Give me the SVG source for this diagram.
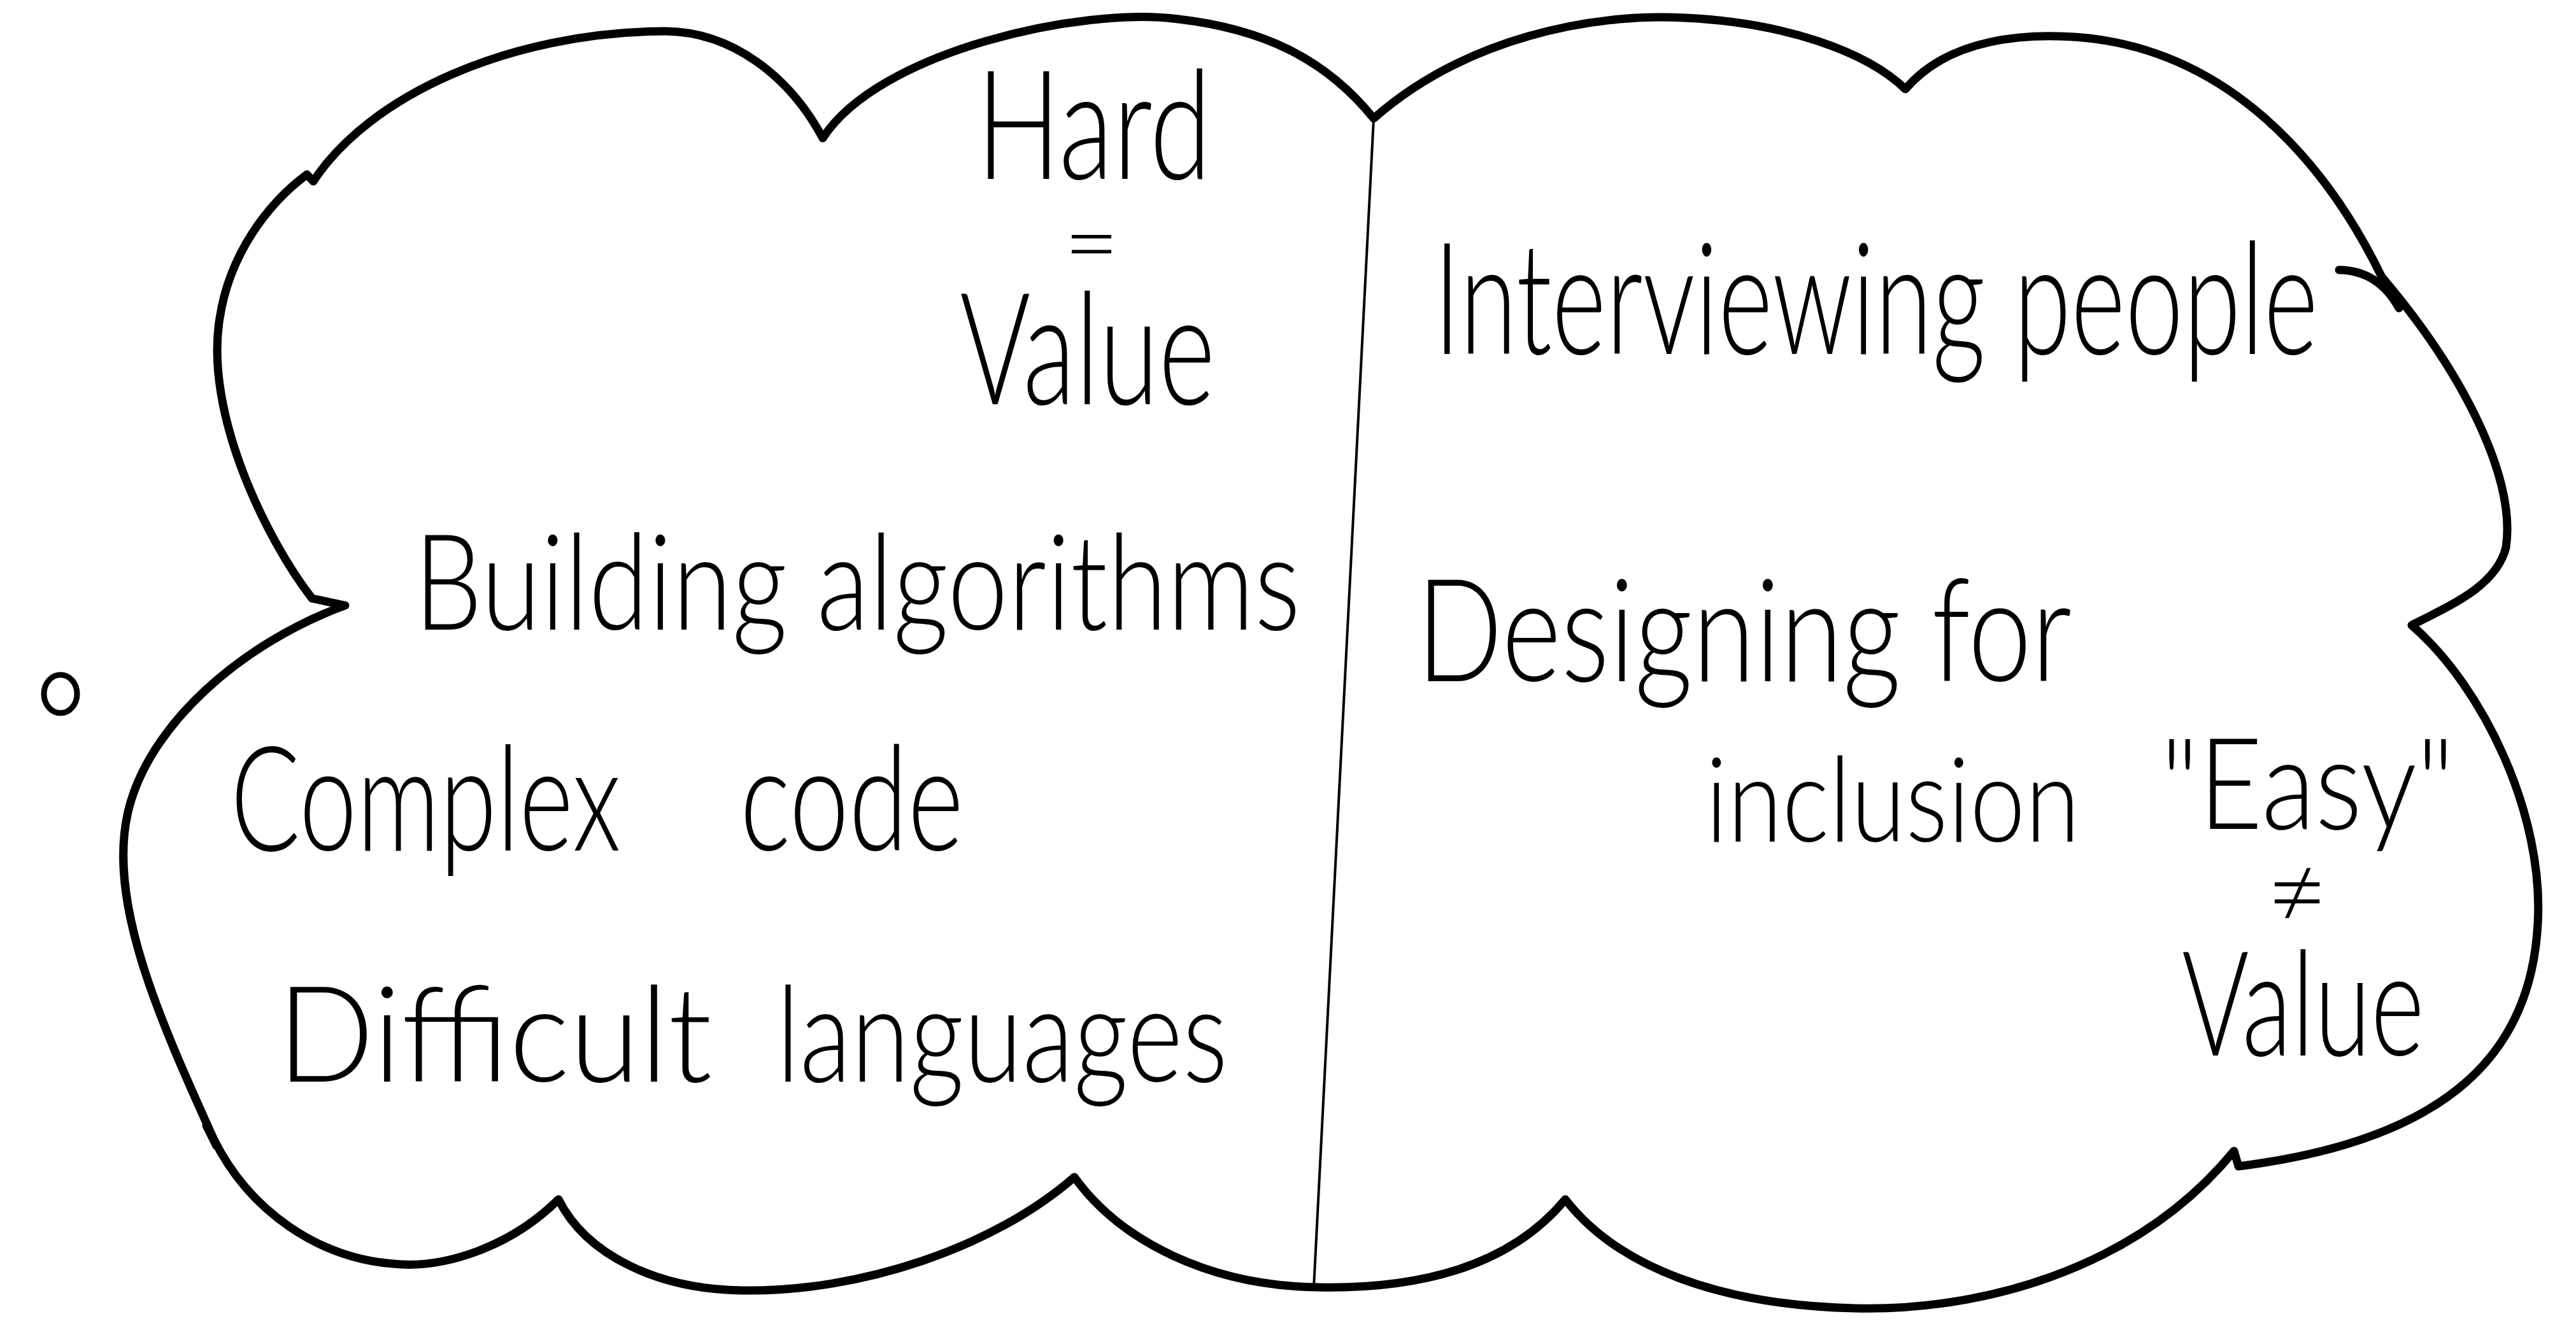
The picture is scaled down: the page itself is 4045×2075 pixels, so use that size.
<svg xmlns="http://www.w3.org/2000/svg" width="4045" height="2075" viewBox="0 0 4045 2075">
<style>
.outline{fill:none;stroke:#000;stroke-width:13;stroke-linecap:round;stroke-linejoin:round}
.divider{fill:none;stroke:#000;stroke-width:4}
.t{font-family:Lato,"Liberation Sans",sans-serif;font-weight:300;fill:#000}
</style>
<rect width="4045" height="2075" fill="#fff"/>
<g id="cloud">
<path class="outline" d="M1292,217 C1380,80 1700,10 1850,30 C1980,45 2080,90 2157,186 C2300,60 2500,20 2645,28 C2800,35 2930,80 2992,140 C3060,60 3180,50 3280,60 C3500,85 3650,250 3740,435 C3880,600 3950,760 3935,860 C3920,920 3850,950 3787,982 C3900,1080 3995,1280 3985,1450 C3975,1650 3850,1790 3515,1832 L3508,1808 C3350,2000 3100,2060 2912,2055 C2700,2050 2540,1990 2458,1884 C2370,1990 2230,2025 2070,2022 C1900,2020 1760,1950 1687,1849 C1560,1960 1350,2030 1165,2027 C1030,2025 920,1970 877,1884 C800,1960 700,1990 629,1986 C500,1980 390,1900 335,1788 C250,1600 170,1420 200,1280 C230,1140 380,1010 542,951 L490,940 C420,850 320,650 345,500 C360,400 420,320 482,274 L492,285 C580,150 800,50 1045,49 C1150,50 1240,120 1292,217"/>
<path class="outline" d="M3673,424 Q3735,425 3767,484"/>
<path class="outline" d="M324,1768 L340,1800"/>
<ellipse class="outline" cx="95" cy="1090" rx="26" ry="30" style="stroke-width:9"/>
</g>
<g id="connectors">
<path class="divider" d="M2157,186 L2063,2022"/>
</g>
<g id="left">
<text class="t" font-size="240"><tspan x="1533" y="281" textLength="369" lengthAdjust="spacingAndGlyphs">Hard</tspan><tspan x="1714" y="434" font-size="150" text-anchor="middle">=</tspan><tspan x="1507" y="635" font-size="245" textLength="401" lengthAdjust="spacingAndGlyphs">Value</tspan></text>
<text class="t" x="650" y="989" font-size="210" textLength="1392" lengthAdjust="spacingAndGlyphs">Building algorithms</text>
<text class="t" x="362" y="1336" font-size="230" textLength="613" lengthAdjust="spacingAndGlyphs">Complex</text>
<text class="t" x="1162" y="1336" font-size="230" textLength="351" lengthAdjust="spacingAndGlyphs">code</text>
<text class="t" x="435" y="1699" font-size="210" textLength="683" lengthAdjust="spacingAndGlyphs">Difficult</text>
<text class="t" x="1219" y="1699" font-size="210" textLength="709" lengthAdjust="spacingAndGlyphs">languages</text>
</g>
<g id="right">
<text class="t" x="2251" y="556" font-size="245" textLength="1389" lengthAdjust="spacingAndGlyphs">Interviewing people</text>
<text class="t" x="2224" y="1070" font-size="225" textLength="1029" lengthAdjust="spacingAndGlyphs">Designing for</text>
<text class="t" x="2678" y="1322" font-size="185" textLength="588" lengthAdjust="spacingAndGlyphs">inclusion</text>
<text class="t" font-size="200"><tspan x="3393" y="1302" textLength="461" lengthAdjust="spacingAndGlyphs">"Easy"</tspan><tspan x="3607" y="1460" font-size="170" text-anchor="middle">≠</tspan><tspan x="3426" y="1658" font-size="230" textLength="381" lengthAdjust="spacingAndGlyphs">Value</tspan></text>
</g>
</svg>
